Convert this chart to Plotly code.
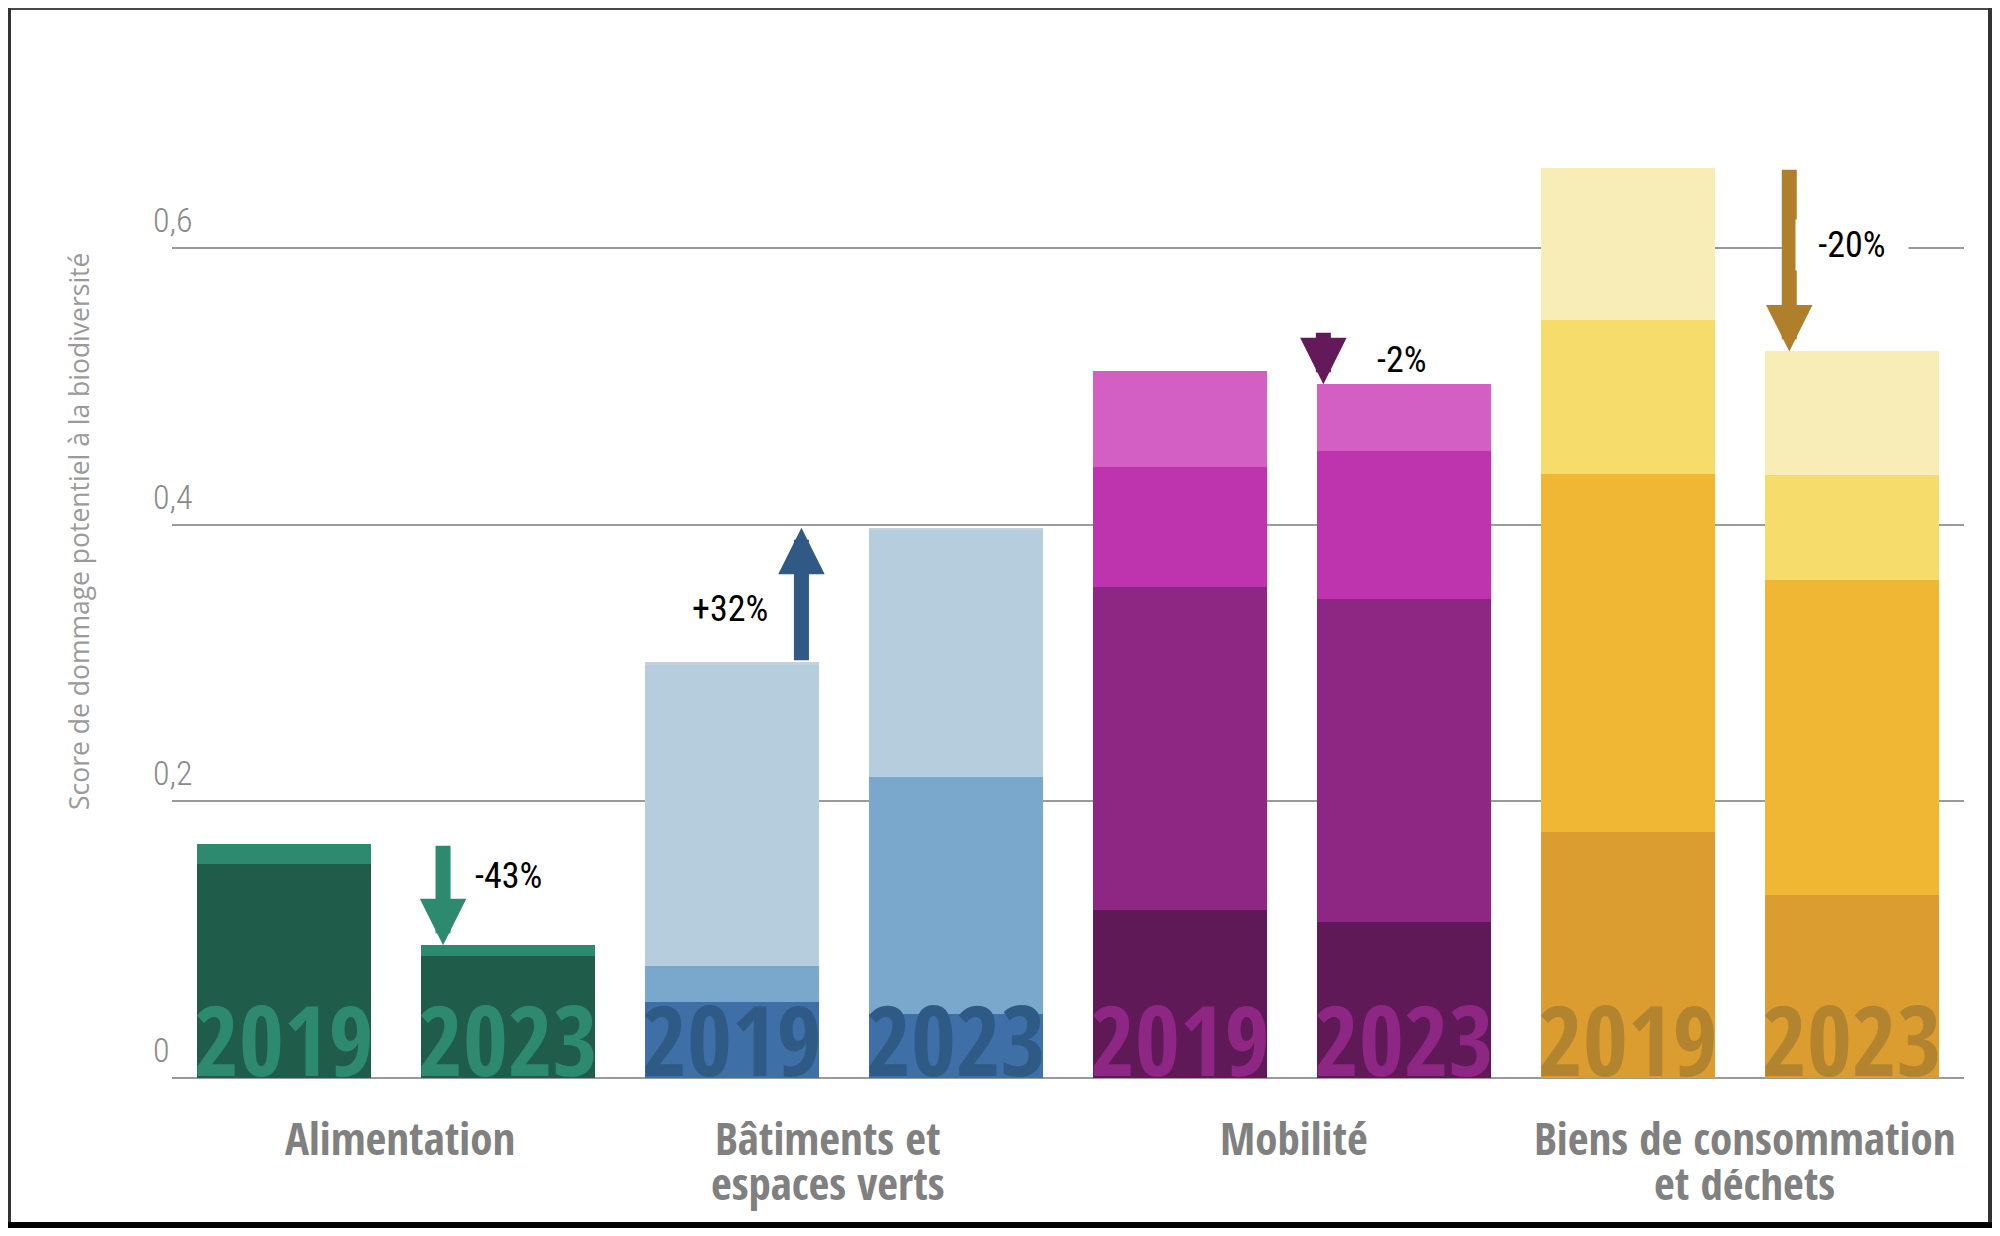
import plotly.graph_objects as go

# ---------------- data ----------------
categories = ["Alimentation", "Bâtiments et\nespaces verts", "Mobilité", "Biens de consommation\net déchets"]
years = ["2019", "2023"]

# stacked segments, bottom -> top
alim_2019 = [0.155, 0.014]
alim_2023 = [0.088, 0.008]
bat_2019 = [0.055, 0.026, 0.218, 0.002]
bat_2023 = [0.046, 0.172, 0.178, 0.002]
mob_2019 = [0.1215, 0.2337, 0.0865, 0.0699]
mob_2023 = [0.1126, 0.2335, 0.1075, 0.0481]
biens_2019 = [0.178, 0.259, 0.1115, 0.1094]
biens_2023 = [0.132, 0.228, 0.076, 0.0895]

changes = ["-43%", "+32%", "-2%", "-20%"]
arrow_from = [0.169, 0.301, 0.540, 0.658]   # arrow tail values
arrow_x = [0.71, 2.31, 4.64, 6.72]         # arrow positions on bar axis
change_label_xy = [(1.0, 0.146), (1.99, 0.339), (4.99, 0.519), (7.0, 0.6025)]

y_ticks = [0, 0.2, 0.4, 0.6]
y_ticktext = ["0", "0,2", "0,4", "0,6"]
y_title = "Score de dommage potentiel à la biodiversité"

# ---------------- styles ----------------
palettes = [
    ["#1F5C4A", "#2E8A6E"],
    ["#3E6FA7", "#79A8CC", "#B6CDDD", "#C4D2DC"],
    ["#5E1956", "#8E2683", "#BE33AE", "#D35EC4"],
    ["#DB9D2F", "#EFB734", "#F6DC6A", "#F8ECB7"],
]
year_colors = ["#2E8A6E", "#2E5A85", "#8E2683", "#B3842F"]
arrow_colors = ["#2E8A6E", "#305A85", "#641A5A", "#B07F2C"]
COND_B = "Open Sans Condensed, Roboto Condensed, DejaVu Sans Condensed, sans-serif"
COND_R = "Roboto Condensed, DejaVu Sans Condensed, sans-serif"

# the page body adds an 8 px margin: the figure is sized to fit inside it
OFF = 8
W, H = 2000 - 2 * OFF, 1236 - 2 * OFF
L, R, T, B = 164, 28, 33, 150
PW, PH = W - L - R, H - T - B

def px_x(px):   # screen px -> paper x
    return (px - OFF - L) / PW

def px_y(py):   # screen px -> paper y
    return (H - B - (py - OFF)) / PH

def fx(px):     # figure px -> paper x
    return (px - L) / PW

def fy(py):     # figure px -> paper y
    return (H - B - py) / PH

bars = [alim_2019, alim_2023, bat_2019, bat_2023, mob_2019, mob_2023, biens_2019, biens_2023]
bar_cat = [i // 2 for i in range(len(bars))]
xpos = list(range(len(bars)))
nlev = max(len(b) for b in bars)

fig = go.Figure()
for k in range(nlev):
    vals = [b[k] if k < len(b) else 0 for b in bars]
    cols = [palettes[c][k] if k < len(palettes[c]) else "rgba(0,0,0,0)" for c in bar_cat]
    fig.add_trace(go.Bar(x=xpos, y=vals, width=0.78, marker=dict(color=cols, line=dict(width=0)),
                         showlegend=False, hoverinfo="skip"))

annotations = []
# year labels inside bars
for i in xpos:
    annotations.append(dict(x=i, y=0, xref="x", yref="y", text="<b>%s</b>" % years[i % 2],
                            showarrow=False, yanchor="bottom", xanchor="center", yshift=-28,
                            font=dict(family=COND_B, size=97, weight=700, color=year_colors[bar_cat[i]])))

# arrows
tots = [sum(b) for b in bars]
for c in range(len(categories)):
    tip = tots[2 * c + 1]
    annotations.append(dict(x=arrow_x[c], y=tip, ax=arrow_x[c], ay=arrow_from[c], xref="x", yref="y",
                            axref="x", ayref="y", text="", showarrow=True, arrowhead=2,
                            arrowwidth=15, arrowsize=0.62, arrowcolor=arrow_colors[c]))
    lx, ly = change_label_xy[c]
    annotations.append(dict(x=lx, y=ly, xref="x", yref="y", text=changes[c], showarrow=False,
                            bgcolor="white" if c == 3 else None, borderpad=4, width=104 if c == 3 else None,
                            font=dict(family=COND_R, size=36, color="#000000")))

# category labels (one annotation per line, tight boxes so lines sit close)
cat_x = [0.52, 2.43, 4.51, 6.52]
line_shift = [-35, -89]
line_valign = ["middle", "bottom"]
for c, name in enumerate(categories):
    for j, line in enumerate(name.split("\n")):
        annotations.append(dict(x=cat_x[c], y=0, xref="x", yref="paper", yanchor="top", xanchor="center",
                                yshift=line_shift[j], height=44, valign=line_valign[j],
                                text="<b>%s</b>" % line, showarrow=False,
                                font=dict(family=COND_B, size=45, weight=700, color="#808080")))

# y tick labels (above gridlines, left aligned)
for v, t in zip(y_ticks, y_ticktext):
    annotations.append(dict(x=px_x(151), y=v, xref="paper", yref="y", xanchor="left", yanchor="bottom",
                            yshift=6, text=t, showarrow=False,
                            font=dict(family=COND_R, size=34, weight=300, color="#8a8a8a")))

# y title
annotations.append(dict(x=px_x(79), y=px_y(532), xref="paper", yref="paper", text=y_title,
                        textangle=-90, showarrow=False, xanchor="center", yanchor="middle",
                        font=dict(family="Open Sans, sans-serif", size=26.5, color="#9a9a9a")))

# frame round the figure
shapes = [
    dict(type="rect", xref="paper", yref="paper", x0=fx(0), x1=fx(W), y0=fy(0), y1=fy(2),
         fillcolor="#4a4a4a", line=dict(width=0), layer="above"),
    dict(type="rect", xref="paper", yref="paper", x0=fx(0), x1=fx(3), y0=fy(0), y1=fy(H),
         fillcolor="#333333", line=dict(width=0), layer="above"),
    dict(type="rect", xref="paper", yref="paper", x0=fx(W - 4), x1=fx(W), y0=fy(0), y1=fy(H),
         fillcolor="#333333", line=dict(width=0), layer="above"),
    dict(type="rect", xref="paper", yref="paper", x0=fx(0), x1=fx(W), y0=fy(H - 6), y1=fy(H),
         fillcolor="#000000", line=dict(width=0), layer="above"),
]

fig.update_layout(
    width=W, height=H, margin=dict(l=L, r=R, t=T, b=B),
    paper_bgcolor="white", plot_bgcolor="white", barmode="stack", bargap=0,
    xaxis=dict(range=[-0.5, 7.5], showticklabels=False, showgrid=False, zeroline=False, ticks=""),
    yaxis=dict(range=[0, 0.75], tickvals=y_ticks, showticklabels=False, showgrid=True,
               gridcolor="#9a9a9a", gridwidth=2, zeroline=True, zerolinecolor="#9a9a9a", zerolinewidth=2,
               ticks=""),
    annotations=annotations, shapes=shapes,
)
fig.write_html("out.html")
